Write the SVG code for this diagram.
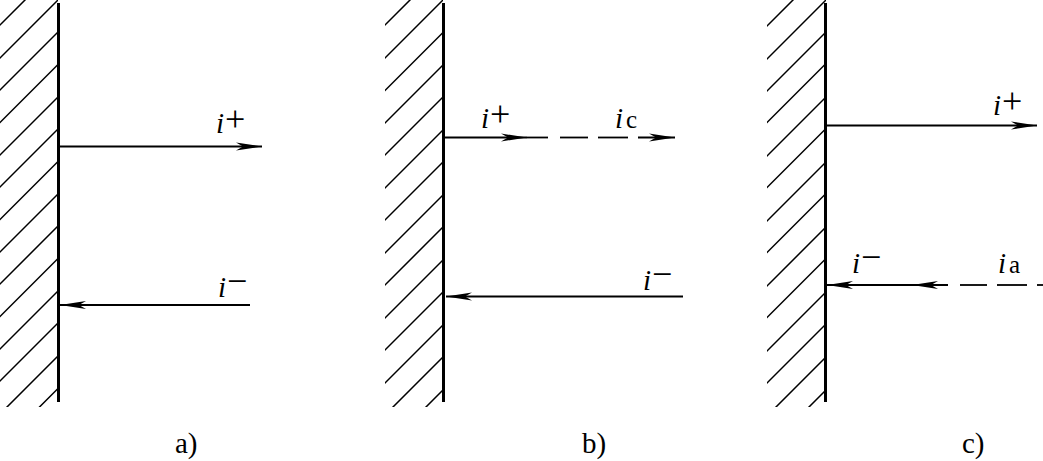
<svg xmlns="http://www.w3.org/2000/svg" width="1043" height="461" viewBox="0 0 1043 461">
<style>
.wall{stroke:#000;stroke-width:3;fill:none}
.hatch{stroke:#000;stroke-width:1.5;fill:none}
.ln{stroke:#000;stroke-width:1.8;fill:none}
.dash{stroke:#000;stroke-width:1.8;fill:none}
.it{font-style:italic}
text{font-family:'Liberation Serif','DejaVu Serif',serif}
</style>
<defs>
<marker id="ah" viewBox="-27 -5 28 10" refX="0" refY="0" markerWidth="28" markerHeight="10" markerUnits="userSpaceOnUse" orient="auto">
<path d="M0,0 L-26,-4 L-19,0 L-26,4 Z" fill="#000"/>
</marker>
<clipPath id="ca"><rect x="0" y="0" width="58" height="407"/></clipPath>
<clipPath id="cb"><rect x="385" y="0" width="58" height="407"/></clipPath>
<clipPath id="cc"><rect x="767" y="0" width="59" height="407"/></clipPath>
</defs>

<g id="panel-a">
<g class="hatch" clip-path="url(#ca)">
<path d="M58,-33 l-80,80 M58,0 l-80,80 M58,32 l-80,80 M58,64.5 l-80,80 M58,97 l-80,80 M58,129 l-80,80 M58,161.5 l-80,80 M58,194 l-80,80 M58,226 l-80,80 M58,258.5 l-80,80 M58,291 l-80,80 M58,323 l-80,80 M58,356 l-80,80 M58,388.5 l-80,80"/>
</g>
<line class="wall" x1="58.5" y1="3" x2="58.5" y2="402"/>
<text font-size="29" x="175" y="453">a)</text>
</g>

<g id="panel-b">
<g class="hatch" clip-path="url(#cb)">
<path d="M443,-33 l-80,80 M443,0 l-80,80 M443,32.5 l-80,80 M443,65 l-80,80 M443,97 l-80,80 M443,130 l-80,80 M443,162 l-80,80 M443,195 l-80,80 M443,227 l-80,80 M443,260 l-80,80 M443,292 l-80,80 M443,325 l-80,80 M443,357 l-80,80 M443,390 l-80,80"/>
</g>
<line class="wall" x1="443.5" y1="3" x2="443.5" y2="402"/>
<text font-size="29" x="582" y="453">b)</text>
</g>

<g id="panel-c">
<g class="hatch" clip-path="url(#cc)">
<path d="M826,-33 l-80,80 M826,0 l-80,80 M826,32 l-80,80 M826,63.5 l-80,80 M826,97 l-80,80 M826,128.5 l-80,80 M826,162 l-80,80 M826,193.5 l-80,80 M826,227 l-80,80 M826,258.5 l-80,80 M826,292 l-80,80 M826,324 l-80,80 M826,357 l-80,80 M826,390 l-80,80"/>
</g>
<line class="wall" x1="825.5" y1="3" x2="825.5" y2="402"/>
<text font-size="29" x="962" y="453">c)</text>
</g>

<g id="connectors">
<line class="ln" x1="60" y1="146.5" x2="262" y2="146.5" marker-end="url(#ah)"/>
<line class="ln" x1="250" y1="305" x2="60" y2="305" marker-end="url(#ah)"/>
<line class="ln" x1="445" y1="137.5" x2="527" y2="137.5" marker-end="url(#ah)"/>
<line class="ln" x1="527" y1="137.5" x2="548" y2="137.5"/>
<line class="dash" x1="560" y1="137.5" x2="588" y2="137.5"/>
<line class="dash" x1="598" y1="137.5" x2="628" y2="137.5"/>
<line class="ln" x1="638" y1="137.5" x2="675" y2="137.5" marker-end="url(#ah)"/>
<line class="ln" x1="683" y1="296.5" x2="446" y2="296.5" marker-end="url(#ah)"/>
<line class="ln" x1="827" y1="125.5" x2="1037" y2="125.5" marker-end="url(#ah)"/>
<line class="ln" x1="948" y1="285" x2="912" y2="285" marker-end="url(#ah)"/>
<line class="ln" x1="912" y1="285" x2="827" y2="285" marker-end="url(#ah)"/>
<line class="dash" x1="960" y1="285" x2="987" y2="285"/>
<line class="dash" x1="997" y1="285" x2="1027" y2="285"/>
<line class="dash" x1="1037" y1="285" x2="1043" y2="285"/>
</g>

<g id="labels" font-size="29">
<text x="216" y="133"><tspan class="it">i</tspan><tspan font-size="36" dx="1" dy="-2">+</tspan></text>
<text x="218" y="297"><tspan class="it">i</tspan><tspan font-size="36" dx="1" dy="-4">−</tspan></text>
<text x="481" y="128"><tspan class="it">i</tspan><tspan font-size="36" dx="1" dy="-2">+</tspan></text>
<text x="615" y="128"><tspan class="it">i</tspan><tspan font-size="25" dx="3">c</tspan></text>
<text x="643" y="290"><tspan class="it">i</tspan><tspan font-size="36" dx="1" dy="-4">−</tspan></text>
<text x="993" y="115"><tspan class="it">i</tspan><tspan font-size="36" dx="1" dy="-2">+</tspan></text>
<text x="852" y="273"><tspan class="it">i</tspan><tspan font-size="36" dx="1" dy="-4">−</tspan></text>
<text x="998" y="273"><tspan class="it">i</tspan><tspan font-size="25" dx="3">a</tspan></text>
</g>
</svg>
